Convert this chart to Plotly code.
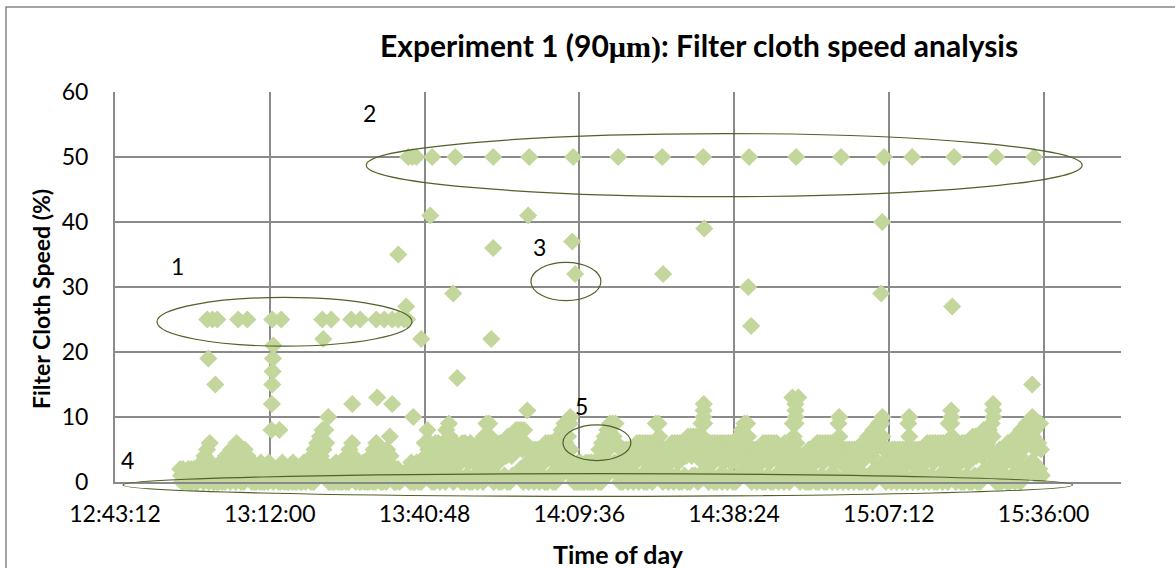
import plotly.graph_objects as go
from datetime import datetime, timedelta

DAY = "2020-01-01"

# ---------------- data ----------------
# dense logged band: one digit per 10 s sample starting at band_start ('.' = no sample)
band_start = "12:55:20"
band_step_s = 10
band_segments = [
    "210201110210201210101211",
    "310421530631",
    "100",
    "210201310320421410531520631",
    "530420531421",
    "210320201210310201210321210",
    "...",
    "210201310210201210320201210201310211",
    "310420531641742853862",
    "100",
    "210201310210201210",
    "420531641",
    "201210201310210201",
    "420530641",
    "210",
    "201310531742",
    "210201210",
    ".........",
    "210320201310210321",
    "641852",
    "640530641640531640",
    "852973",
    "530641531530640641530640531530641530",
    "741962973",
    "530531530640641640750741751",
    "851862850861",
    "530531530531530531530",
    "640641640630641",
    "741852962973951",
    "310210320310201310320310321310",
    "530641751852962973962",
    "310",
    "530531530531530531",
    "640641640630641640631",
    "962973",
    "530531530531640641630640641640750741751740751",
    "973962",
    "640641630640641640631640641630640641",
    "741852962973",
    "530531530531530640641630640641640",
    "531530641640531",
    "973962",
    "420431420430530531530640641630640641640631640",
    "973",
    "530531530531530531530",
    "530641640751740852861962",
    "973",
    "530531530531530531530531530",
    "973",
    "530531530531530531640641630640641640631640",
    "962973",
    "530531530640641630640751740750741852861851",
    "973",
    "420430530531530640641630751740852861962973",
    "973",
    "851962951",
]

# plateau at 25 % (region 1)
plateau25_times = ["13:00:22", "13:01:20", "13:02:14", "13:06:08", "13:07:49",
                   "13:12:28", "13:14:08", "13:21:46", "13:23:26", "13:27:10",
                   "13:28:50", "13:31:49", "13:33:18", "13:34:47", "13:35:55",
                   "13:37:01", "13:37:35"]
plateau25_values = [25] * len(plateau25_times)

# plateau at 50 % (region 2)
plateau50_times = ["13:37:46", "13:38:31", "13:39:16", "13:42:14", "13:46:31",
                   "13:53:35", "14:00:17", "14:08:28", "14:16:50", "14:25:02",
                   "14:32:39", "14:41:12", "14:49:57", "14:58:19", "15:06:19",
                   "15:11:32", "15:19:20", "15:27:10", "15:34:14"]
plateau50_values = [50] * len(plateau50_times)

# scattered readings
other_times = ["13:00:34", "13:01:52", "13:12:20", "13:12:24", "13:12:28", "13:12:32",
               "13:12:36", "13:12:40", "13:13:48", "13:21:57", "13:22:53", "13:27:21",
               "13:32:00", "13:34:47", "13:35:55", "13:37:23", "13:38:42", "13:40:11",
               "13:41:52", "13:46:08", "13:46:53", "13:53:13", "13:53:35", "13:59:55",
               "14:00:05", "14:07:55", "14:08:17", "14:08:50", "14:25:12", "14:32:42",
               "14:32:44", "14:32:46", "14:32:51", "14:41:02", "14:41:35", "14:49:15",
               "14:49:48", "14:49:50", "14:49:52", "14:50:22", "14:57:57", "15:05:46",
               "15:05:58", "15:06:00", "15:10:59", "15:18:48", "15:18:50", "15:18:59",
               "15:26:36", "15:26:38", "15:26:40", "15:33:52", "15:33:54"]
other_values = [19, 15, 8, 12, 15, 17,
                19, 21, 8, 22, 10, 12,
                13, 12, 35, 27, 10, 22,
                41, 29, 16, 22, 36, 11,
                41, 10, 37, 32, 32, 10,
                11, 12, 39, 30, 24, 13,
                12, 11, 10, 13, 10, 29,
                40, 10, 10, 11, 10, 27,
                12, 11, 10, 15, 10]

# annotation regions: (label, label time, label value, t0, t1, v0, v1)
regions = [
    ("1", "12:54:53", 33.3, "12:51:01", "13:38:28", 20.9, 28.4),
    ("2", "13:30:36", 56.8, "13:29:57", "15:43:10", 43.9, 53.6),
    ("3", "14:02:14", 36.2, "14:00:36", "14:13:37", 27.9, 33.8),
    ("4", "12:45:29", 3.35, "12:44:41", "15:41:24", -2.2, 1.28),
    ("5", "14:09:57", 11.66, "14:06:33", "14:19:12", 3.3, 8.8),
]

x_min, x_max = "12:43:12", "15:50:24"
y_min, y_max = 0, 60
tick_step_ms = 28.8 * 60 * 1000

# ---------------- build ----------------
def ts(t):
    return f"{DAY} {t}"

t0 = datetime.strptime(f"{DAY} {band_start}", "%Y-%m-%d %H:%M:%S")
band_x, band_y = [], []
for k, c in enumerate("".join(band_segments)):
    if c == ".":
        continue
    band_x.append(t0 + timedelta(seconds=k * band_step_s))
    band_y.append(int(c))

MARK = dict(symbol="diamond", size=14, color="#C3D69B", line=dict(width=0))

fig = go.Figure()
fig.add_trace(go.Scatter(x=band_x, y=band_y, mode="markers", marker=MARK,
                         cliponaxis=False, hoverinfo="skip"))
for tt, vv in [(other_times, other_values), (plateau25_times, plateau25_values),
               (plateau50_times, plateau50_values)]:
    fig.add_trace(go.Scatter(x=[ts(t) for t in tt], y=vv, mode="markers", marker=MARK,
                             cliponaxis=False, hoverinfo="skip"))

ML, MR, MT, MB = 115, 54, 92, 86
W, H = 1175, 568
PW, PH = W - ML - MR, H - MT - MB

def pxx(px):
    return (px - ML) / PW

def pxy(py):
    return (H - MB - py) / PH

FONT = "Lato, 'Open Sans', sans-serif"
GRID = "#8a8a8a"
shapes = []
annotations = []
for lab, lt, lv, a0, a1, v0, v1 in regions:
    if v0 < y_min:
        shapes.append(dict(type="circle", xref="x", yref="paper", x0=ts(a0), x1=ts(a1),
                           y0=(v0 - y_min) / (y_max - y_min), y1=(v1 - y_min) / (y_max - y_min),
                           line=dict(color="#4F6228", width=1.2)))
    else:
        shapes.append(dict(type="circle", xref="x", yref="y", x0=ts(a0), x1=ts(a1),
                           y0=v0, y1=v1, line=dict(color="#4F6228", width=1.2)))
    annotations.append(dict(text=lab, x=ts(lt), y=lv, xref="x", yref="y", showarrow=False,
                            xanchor="center", yanchor="middle",
                            font=dict(family=FONT, size=23, color="black")))

# outer chart border
shapes.append(dict(type="rect", xref="paper", yref="paper", x0=pxx(6), x1=pxx(1190),
                   y0=pxy(590), y1=pxy(7), line=dict(color="#868686", width=1.5)))

annotations.append(dict(
    text="<b>Experiment 1 (90<span style='font-family:Liberation Serif'>µm)</span>: Filter cloth speed analysis</b>",
    x=pxx(699), y=pxy(46), xref="paper", yref="paper", showarrow=False,
    font=dict(family=FONT, size=30, color="black"), xanchor="center", yanchor="middle"))
annotations.append(dict(text="<b>Time of day</b>", x=pxx(618), y=pxy(554), xref="paper",
                        yref="paper", showarrow=False, xanchor="center", yanchor="middle",
                        font=dict(family=FONT, size=25, color="black")))
annotations.append(dict(text="<b>Filter Cloth Speed (%)</b>", x=pxx(41), y=pxy(299),
                        xref="paper", yref="paper", showarrow=False, textangle=-90,
                        xanchor="center", yanchor="middle",
                        font=dict(family=FONT, size=23, color="black")))

fig.update_layout(
    width=W, height=H, margin=dict(l=ML, r=MR, t=MT, b=MB),
    paper_bgcolor="white", plot_bgcolor="white", showlegend=False,
    shapes=shapes, annotations=annotations,
    xaxis=dict(type="date", range=[ts(x_min), ts(x_max)], tick0=ts(x_min), dtick=tick_step_ms,
               tickformat="%H:%M:%S", showgrid=True, gridcolor=GRID, gridwidth=2,
               showline=True, linecolor=GRID, linewidth=2, ticks="", zeroline=False,
               tickfont=dict(family=FONT, size=23, color="black"), ticklabelstandoff=10,
               automargin=False),
    yaxis=dict(range=[y_min, y_max], dtick=10, showgrid=True, gridcolor=GRID, gridwidth=2,
               showline=True, linecolor=GRID, linewidth=2, ticks="", zeroline=False,
               tickfont=dict(family=FONT, size=23, color="black"), ticklabelstandoff=20,
               automargin=False),
)

fig.write_html("out.html")
